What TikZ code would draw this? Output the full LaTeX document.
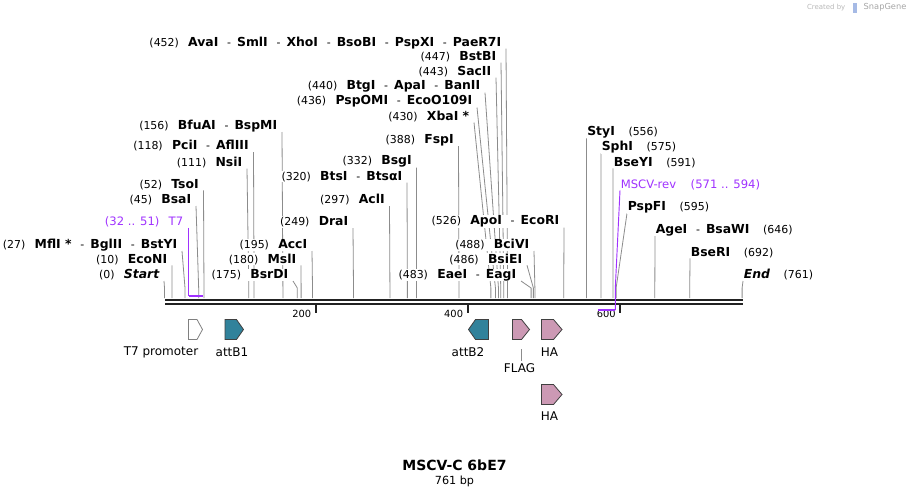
\documentclass[tikz,border=0pt]{standalone}
\usepackage{fontspec}
\setmainfont{DejaVu Sans}
\usepackage{tikz}
\usetikzlibrary{calc}
\pgfdeclarelayer{canvas}
\pgfdeclarelayer{leaders}
\pgfsetlayers{canvas,leaders,main}
\definecolor{primer}{RGB}{160,50,255}
\definecolor{attteal}{RGB}{49,130,155}
\definecolor{tagpink}{RGB}{204,153,180}
\definecolor{sitegray}{RGB}{140,140,140}
\definecolor{bbdark}{RGB}{34,34,34}
\tikzset{
	>=latex,
	enzyme/.style={inner sep=0.4pt, fill=white, font=\fontsize{8.2}{9.8}\selectfont},
	primertxt/.style={inner sep=0.4pt, fill=white, font=\fontsize{8.7}{10}\selectfont, text=primer},
	site/.style={draw=sitegray, line width=0.6pt},
	primerline/.style={draw=primer, line width=0.7pt},
	primerbar/.style={draw=primer, line width=1.6pt},
	tickmark/.style={draw=bbdark, line width=1.5pt},
	ticklbl/.style={inner sep=0pt, font=\fontsize{7.4}{9}\selectfont},
	feat/.style={draw=black!75, line width=0.6pt, line join=miter},
	featlbl/.style={inner sep=0pt, font=\fontsize{9}{10.5}\selectfont}
}
\newcommand{\enz}[1]{{\fontsize{9.3}{10}\selectfont\bfseries #1}}
\newcommand{\cs}{\hspace{0.8em}-\hspace{0.55em}}
\newcommand{\lpos}[1]{(#1)\hspace{0.85em}}
\newcommand{\rpos}[1]{\hspace{1.25em}(#1)}

\begin{document}
\begin{tikzpicture}[x=0.75pt,y=-0.75pt]
	% canvas
	\begin{pgfonlayer}{canvas}
		\fill[white] (0,0) rectangle (909,496);
	\end{pgfonlayer}
	\useasboundingbox (0,0) rectangle (909,496);
	
	% site positions on the backbone (x = 164.5 + 0.759 bp)
	\foreach \p in {0,10,27,45,52,111,118,156,175,180,195,249,297,320,332,388,
		430,436,440,443,447,452,483,486,488,526,556,575,591,595,646,692,761}{
		\coordinate (s\p) at ({164.5+0.759*\p},298);
		\coordinate (b\p) at ({164.5+0.759*\p},288);
	}
	
	% enzymes left of their line
	\node[enzyme, anchor=east] (L452) at (502,42.7) {\lpos{452}\enz{AvaI}\cs\enz{SmlI}\cs\enz{XhoI}\cs\enz{BsoBI}\cs\enz{PspXI}\cs\enz{PaeR7I}};
	\node[enzyme, anchor=east] (L447) at (497,56.7) {\lpos{447}\enz{BstBI}};
	\node[enzyme, anchor=east] (L443) at (492,71.7) {\lpos{443}\enz{SacII}};
	\node[enzyme, anchor=east] (L440) at (481,86.7) {\lpos{440}\enz{BtgI}\cs\enz{ApaI}\cs\enz{BanII}};
	\node[enzyme, anchor=east] (L436) at (473,101.5) {\lpos{436}\enz{PspOMI}\cs\enz{EcoO109I}};
	\node[enzyme, anchor=east] (L430) at (470,116.5) {\lpos{430}\enz{XbaI *}};
	\node[enzyme, anchor=east] (L156) at (278,126) {\lpos{156}\enz{BfuAI}\cs\enz{BspMI}};
	\node[enzyme, anchor=east] (L388) at (454.5,140) {\lpos{388}\enz{FspI}};
	\node[enzyme, anchor=east] (L118) at (249.5,146) {\lpos{118}\enz{PciI}\cs\enz{AflIII}};
	\node[enzyme, anchor=east] (L332) at (412.5,161.7) {\lpos{332}\enz{BsgI}};
	\node[enzyme, anchor=east] (L111) at (243,162.7) {\lpos{111}\enz{NsiI}};
	\node[enzyme, anchor=east] (L320) at (403,176.7) {\lpos{320}\enz{BtsI}\cs\enz{BtsαI}};
	\node[enzyme, anchor=east] (L52) at (199.5,184.3) {\lpos{52}\enz{TsoI}};
	\node[enzyme, anchor=east] (L297) at (385.5,200) {\lpos{297}\enz{AclI}};
	\node[enzyme, anchor=east] (L45) at (192,200) {\lpos{45}\enz{BsaI}};
	\node[primertxt, anchor=east] (LT7) at (184,222) {(32 .. 51)\hspace{0.8em}T7};
	\node[enzyme, anchor=east] (L249) at (349,222) {\lpos{249}\enz{DraI}};
	\node[enzyme, anchor=east] (L526) at (560,221.7) {\lpos{526}\enz{ApoI}\cs\enz{EcoRI}};
	\node[enzyme, anchor=east] (L27) at (178,245) {\lpos{27}\enz{MflI *}\cs\enz{BglII}\cs\enz{BstYI}};
	\node[enzyme, anchor=east] (L195) at (308,245) {\lpos{195}\enz{AccI}};
	\node[enzyme, anchor=east] (L488) at (530,245) {\lpos{488}\enz{BciVI}};
	\node[enzyme, anchor=east] (L10) at (168,259.3) {\lpos{10}\enz{EcoNI}};
	\node[enzyme, anchor=east] (L180) at (297,259.3) {\lpos{180}\enz{MslI}};
	\node[enzyme, anchor=east] (L486) at (523,259.3) {\lpos{486}\enz{BsiEI}};
	\node[enzyme, anchor=east] (L0) at (160,275) {\lpos{0}\enz{\itshape Start}};
	\node[enzyme, anchor=east] (L175) at (289,275) {\lpos{175}\enz{BsrDI}};
	\node[enzyme, anchor=east] (L483) at (517,275) {\lpos{483}\enz{EaeI}\cs\enz{EagI}};
	
	% enzymes right of their line
	\node[enzyme, anchor=west] (R556) at (586.5,132.3) {\enz{StyI}\rpos{556}};
	\node[enzyme, anchor=west] (R575) at (601,147.3) {\enz{SphI}\rpos{575}};
	\node[enzyme, anchor=west] (R591) at (613,162.3) {\enz{BseYI}\rpos{591}};
	\node[primertxt, anchor=west] (Rrev) at (620,185) {MSCV-rev\rpos{571 .. 594}};
	\node[enzyme, anchor=west] (R595) at (627,207.3) {\enz{PspFI}\rpos{595}};
	\node[enzyme, anchor=west] (R646) at (655,230) {\enz{AgeI}\cs\enz{BsaWI}\rpos{646}};
	\node[enzyme, anchor=west] (R692) at (690,252.3) {\enz{BseRI}\rpos{692}};
	\node[enzyme, anchor=west] (R761) at (743,275) {\enz{\itshape End}\rpos{761}};
	
	% lines from labels down to the sites (behind the labels)
	\begin{pgfonlayer}{leaders}
		\foreach \p in {452,447,443,440,436,430,156,388,118,332,111,320,52,297,45,
			249,526,27,195,488,10,180,486,0,175,483}
		\draw[site] ([xshift=3pt,yshift=-4.5pt]L\p.east) -- (b\p) -- (s\p);
		\foreach \p in {556,575,591,595,646,692,761}
		\draw[site] ([yshift=-4.5pt]R\p.west) -- (b\p) -- (s\p);
	\end{pgfonlayer}
	
	% backbone
	\coordinate (bbl) at (165,300);
	\coordinate (bbr) at (743,300);
	\draw[bbdark, line width=2pt] (bbl) -- (bbr);
	\draw[bbdark, line width=1.1pt] ([yshift=-2.9pt]bbl) -- ([yshift=-2.9pt]bbr);
	
	% ruler ticks
	\coordinate (k200) at (316.3,304);
	\coordinate (k400) at (468.1,304);
	\coordinate (k600) at (619.9,304);
	\draw[tickmark] (k200) -- ++(0,8.5);
	\draw[tickmark] (k400) -- ++(0,8.5);
	\draw[tickmark] (k600) -- ++(0,8.5);
	\node[ticklbl, anchor=east] (t200) at (311.5,313.5) {200};
	\node[ticklbl, anchor=east] (t400) at (463.3,313.5) {400};
	\node[ticklbl, anchor=east] (t600) at (616,313.5) {600};
	
	% primers
	\coordinate (t7l) at (188.8,296);
	\coordinate (t7r) at (203.2,296);
	\draw[primerline] (t7l |- LT7.south) -- (t7l);
	\draw[primerbar] (t7l) -- (t7r);
	\coordinate (rvb) at (615.3,288);
	\coordinate (rvr) at (615.3,310);
	\coordinate (rvl) at (597.9,310);
	\draw[primerline] ([yshift=-4pt]Rrev.west) -- (rvb) -- (rvr);
	\draw[primerbar] (rvr) -- (rvl);
	
	% features
	\draw[feat, draw=gray, fill=white] (188.5,319.5) -- (197,319.5) -- (202.5,329.5) -- (197,339.5) -- (188.5,339.5) -- cycle;
	\draw[feat, fill=attteal] (225,319.5) -- (236.5,319.5) -- (243.5,329.5) -- (236.5,339.5) -- (225,339.5) -- cycle;
	\draw[feat, fill=attteal] (488.5,319.5) -- (475.5,319.5) -- (468.5,329.5) -- (475.5,339.5) -- (488.5,339.5) -- cycle;
	\draw[feat, fill=tagpink] (512.5,319.5) -- (521.5,319.5) -- (529.5,329.5) -- (521.5,339.5) -- (512.5,339.5) -- cycle;
	\draw[feat, fill=tagpink] (541.5,319.5) -- (553.5,319.5) -- (562,329.5) -- (553.5,339.5) -- (541.5,339.5) -- cycle;
	\draw[feat, fill=tagpink] (541.5,384.5) -- (553.5,384.5) -- (562,394.5) -- (553.5,404.5) -- (541.5,404.5) -- cycle;
	
	% feature labels
	\node[featlbl] (fT7) at (161,352) {T7 promoter};
	\node[featlbl] (fB1) at (232,352) {attB1};
	\node[featlbl] (fB2) at (468,352) {attB2};
	\node[featlbl] (fHA) at (549.5,352) {HA};
	\node[featlbl] (fFLAG) at (519.5,368.5) {FLAG};
	\node[featlbl] (fHA2) at (549.5,416) {HA};
	\draw[site] ([yshift=2pt]fFLAG.north -| 521.5,0) -- (521.5,349);
	
	% title
	\node[font=\fontsize{10.5}{12}\selectfont\bfseries] (title) at (454.5,465.5) {MSCV-C 6bE7};
	\node[font=\fontsize{8.4}{9.5}\selectfont] (bp) at (454.5,481) {761 bp};
	
	% watermark
	\node[font=\fontsize{5.2}{6}\selectfont, text=gray!55, anchor=east] (wm1) at (850,7.5) {Created by};
	\fill[cyan!45!blue!35] (853,3) rectangle (857,13);
	\node[font=\fontsize{6.2}{7}\selectfont, text=gray!70, anchor=west] (wm2) at (859,7.5) {SnapGene};
	
\end{tikzpicture}
\end{document}
